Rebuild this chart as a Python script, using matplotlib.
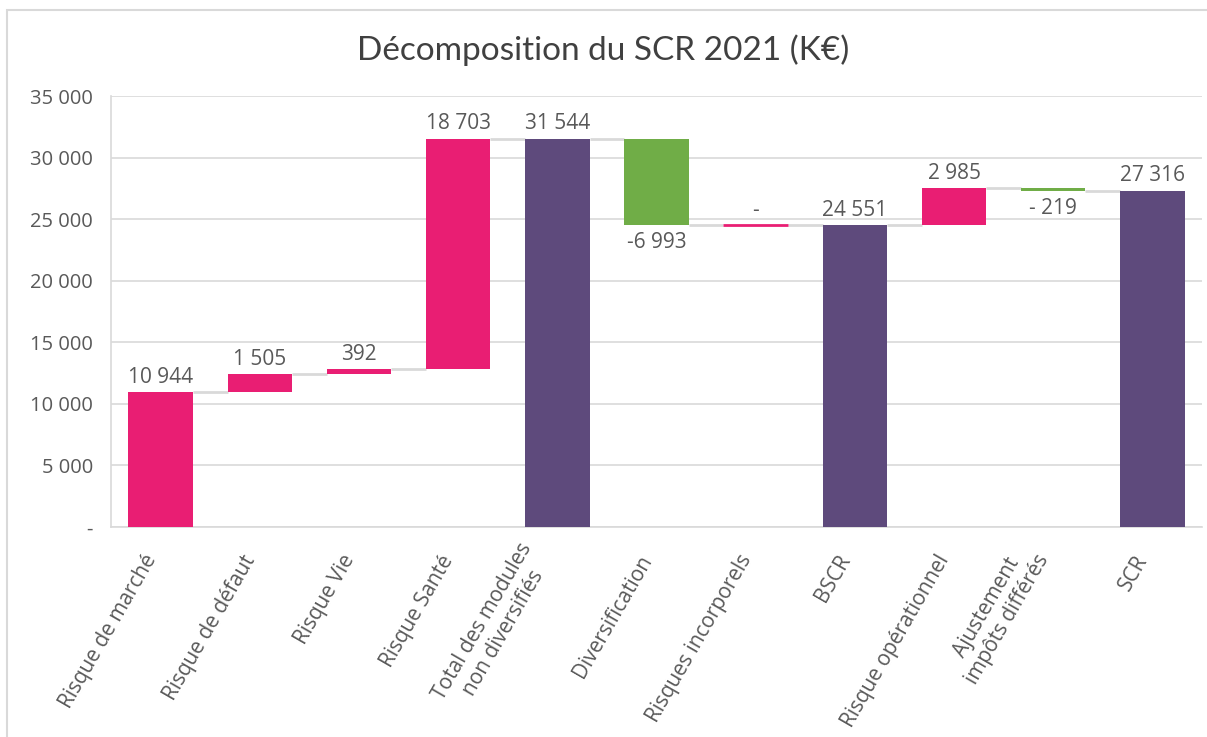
import matplotlib
matplotlib.use("Agg")
import matplotlib.pyplot as plt
from matplotlib.patches import Rectangle

# data
categories = ["Risque de marché", "Risque de défaut", "Risque Vie", "Risque Santé",
              "Total des modules\nnon diversifiés", "Diversification", "Risques incorporels",
              "BSCR", "Risque opérationnel", "Ajustement\nimpôts différés", "SCR"]
values = [10944, 1505, 392, 18703, 31544, -6993, 0, 24551, 2985, -219, 27316]
kinds = ["inc", "inc", "inc", "inc", "total", "dec", "inc", "total", "inc", "dec", "total"]
labels = ["10 944", "1 505", "392", "18 703", "31 544", "-6 993", "-", "24 551", "2 985", "- 219", "27 316"]
yticks = [0, 5000, 10000, 15000, 20000, 25000, 30000, 35000]
ytick_labels = ["-", "5 000", "10 000", "15 000", "20 000", "25 000", "30 000", "35 000"]

colors = {"inc": "#E91E73", "dec": "#70AD47", "total": "#5E4A7C"}
text_col = "#595959"
grid_col = "#D9D9D9"

plt.rcParams['font.family'] = ['Open Sans', 'DejaVu Sans']

fig = plt.figure(figsize=(12.07, 7.37), dpi=100)
ax = fig.add_axes([111/1207, 1-527/737, 1091/1207, 431/737])

w = 0.65
running = 0
bottoms, heights, levels = [], [], []
for v, k in zip(values, kinds):
    if k == "total":
        b, h = 0, v
        running = v
    else:
        b = running if v >= 0 else running + v
        h = abs(v)
        running += v
    bottoms.append(b)
    heights.append(h)
    levels.append(running)

for i, (b, h, k) in enumerate(zip(bottoms, heights, kinds)):
    ax.bar(i, h, bottom=b, width=w, color=colors[k],
           edgecolor=colors[k], linewidth=2 if h == 0 else 0, zorder=3)

# connector lines
for i in range(len(values) - 1):
    ax.plot([i + w/2, i + 1 - w/2], [levels[i], levels[i]],
            color=grid_col, lw=2, zorder=2, solid_capstyle='butt')

# data labels
for i, (b, h, v, lab) in enumerate(zip(bottoms, heights, values, labels)):
    if v < 0:
        ax.annotate(lab, (i, b), xytext=(0, -5), textcoords="offset points",
                    ha="center", va="top", fontsize=15, color=text_col)
    else:
        ax.annotate(lab, (i, b + h), xytext=(0, 3), textcoords="offset points",
                    ha="center", va="bottom", fontsize=15, color=text_col)

ax.set_xlim(-0.5, len(values) - 0.5)
ax.set_ylim(0, 35000)
ax.set_yticks(yticks)
ax.set_yticklabels(ytick_labels)
ax.set_xticks(range(len(categories)))
ax.set_xticklabels(categories, rotation=60, ha="right", va="bottom",
                   rotation_mode="anchor", multialignment="center")
ax.tick_params(axis="y", length=0, pad=13, labelsize=14.5, labelcolor=text_col)
ax.tick_params(axis="x", length=0, pad=25, labelsize=15, labelcolor=text_col)
ax.grid(axis="y", color=grid_col, lw=1.2, zorder=0)
ax.set_axisbelow(True)
for s in ["top", "right"]:
    ax.spines[s].set_visible(False)
for s in ["left", "bottom"]:
    ax.spines[s].set_color(grid_col)
    ax.spines[s].set_linewidth(1.2)

fig.text(0.5, 1 - 50/737, "Décomposition du SCR 2021 (K€)", ha="center", va="center",
         fontsize=24, color="#404040", family=["Lato", "DejaVu Sans"])

fig.patches.append(Rectangle((7/1207, -0.1), 1.2, 1.1 - 10/737, transform=fig.transFigure,
                             fill=False, edgecolor=grid_col, lw=1.5))

fig.savefig("out.png", dpi=100)
